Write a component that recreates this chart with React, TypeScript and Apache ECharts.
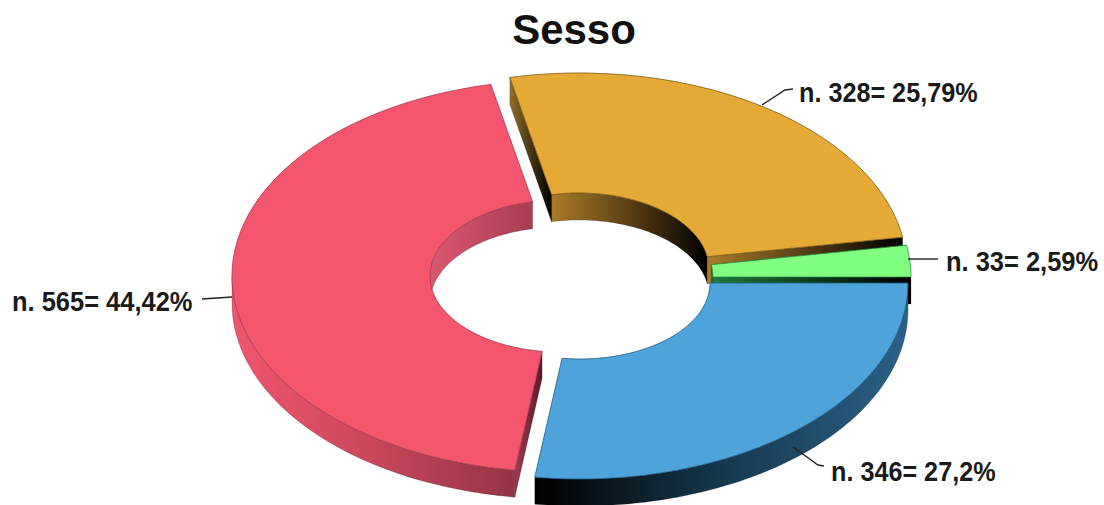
import React, { useEffect, useRef } from "react";
import * as echarts from "echarts";

const titleText = "Sesso";
const categories = ["blue", "red", "orange", "green"];
const counts = [346, 565, 328, 33];
const percentLabels = ["27,2%", "44,42%", "25,79%", "2,59%"];
const drawOrder = [2, 3, 1, 0];

const topColors = ["#4fa3db", "#f4566e", "#e5a936", "#80ff80"];
const edgeColors = ["#1f5a80", "#a83a50", "#7a5a14", "#2f8f45"];

type Stops = string[];
const outerWall: (Stops | null)[] = [
  ["#000000", "#16384e", "#2a6288"],
  ["#f0566e", "#c9465c", "#933545"],
  null,
  null,
];
const innerWall: (Stops | null)[] = [
  null,
  ["#d9586f", "#a83c52"],
  ["#a97c28", "#5a3f14", "#000000"],
  null,
];
const startWall: (Stops | null)[] = [null, ["#a03a50", "#5c1a28"], ["#93702a", "#000000"], ["#1f7a3a", "#000000"]];
const endWall: (Stops | null)[] = [null, null, ["#a97c28", "#000000"], ["#1f7a3a", "#000000"]];

const CX = 580;
const CY = 283;
const RX = 328;
const RY = 196;
const IRX = 130;
const IRY = 76;
const DEPTH = 27;
const sliceShift = [
  [0, 0],
  [-20, -7],
  [-1, -14],
  [3, -6],
];

const labelX = [831, 12, 799, 946];
const labelY = [472, 302, 93, 262];
const labelScale = [0.9, 0.91, 0.9, 0.91];
const leaders = [
  [[793, 447], [818, 465], [824, 466]],
  [[202, 299], [232, 297]],
  [[762, 105], [785, 90], [793, 89]],
  [[908, 259], [938, 259]],
];

const total = counts.reduce((a, b) => a + b, 0);
const starts: number[] = [];
counts.reduce((acc, v, i) => {
  starts[i] = acc;
  return acc + (v / total) * 360;
}, 0);

function arc(rx: number, ry: number, cx: number, cy: number, a: number, b: number) {
  const pts: number[][] = [];
  const n = Math.max(2, Math.ceil(Math.abs(b - a) / 1.5));
  for (let k = 0; k <= n; k++) {
    const t = ((a + ((b - a) * k) / n) * Math.PI) / 180;
    pts.push([cx + rx * Math.cos(t), cy + ry * Math.sin(t)]);
  }
  return pts;
}

function grad(stops: Stops) {
  return new echarts.graphic.LinearGradient(
    0,
    0,
    1,
    0,
    stops.map((color, i) => ({ offset: i / (stops.length - 1), color }))
  );
}

function wall(pts: number[][], stops: Stops) {
  const lower = pts.map((p) => [p[0], p[1] + DEPTH]).reverse();
  return {
    type: "polygon",
    silent: true,
    shape: { points: pts.concat(lower) },
    style: { fill: grad(stops), stroke: "rgba(0,0,0,0.35)", lineWidth: 0.6 },
  };
}

const renderSlice = (_p: any, api: any) => {
  const i = api.value(0) as number;
  const a = starts[i];
  const b = a + (api.value(1) / total) * 360;
  const cx = CX + sliceShift[i][0];
  const cy = CY + sliceShift[i][1];
  const children: any[] = [];

  const oa = Math.max(a, 0);
  const ob = Math.min(b, 180);
  const ia = Math.max(a, 180);
  const ib = Math.min(b, 360);
  const at = (rx: number, ry: number, t: number) => {
    const r = (t * Math.PI) / 180;
    return [cx + rx * Math.cos(r), cy + ry * Math.sin(r)];
  };

  if (innerWall[i] && ib > ia) children.push(wall(arc(IRX, IRY, cx, cy, ia, ib), innerWall[i]!));
  if (startWall[i]) {
    const ends = [at(RX, RY, a), at(IRX, IRY, a)].sort((p, q) => p[0] - q[0]);
    children.push(wall(ends, startWall[i]!));
  }
  if (endWall[i]) {
    const ends = [at(RX, RY, b), at(IRX, IRY, b)].sort((p, q) => p[0] - q[0]);
    children.push(wall(ends, endWall[i]!));
  }
  if (outerWall[i] && ob > oa) children.push(wall(arc(RX, RY, cx, cy, oa, ob), outerWall[i]!));

  children.push({
    type: "polygon",
    silent: true,
    shape: { points: arc(RX, RY, cx, cy, a, b).concat(arc(IRX, IRY, cx, cy, b, a)) },
    style: { fill: topColors[i], stroke: edgeColors[i], lineWidth: 0.8 },
  });

  children.push({
    type: "polyline",
    silent: true,
    shape: { points: leaders[i] },
    style: { fill: "none", stroke: "#222222", lineWidth: 1.4 },
  });
  children.push({
    type: "text",
    silent: true,
    x: labelX[i],
    y: labelY[i],
    scaleX: labelScale[i],
    style: {
      text: `n. ${api.value(1)}= ${percentLabels[i]}`,
      font: 'bold 28px "Liberation Sans", Arial, sans-serif',
      fill: "#1a1a1a",
      align: "left",
      verticalAlign: "middle",
    },
  });
  return { type: "group", children };
};

export default function App() {
  const ref = useRef<HTMLDivElement>(null);
  useEffect(() => {
    document.body.style.margin = "0";
    const chart = echarts.init(ref.current!, null, { renderer: "svg" });
    chart.setOption({
      animation: false,
      backgroundColor: "#ffffff",
      title: {
        text: titleText,
        left: 569,
        top: 3,
        textAlign: "center",
        textStyle: { fontFamily: '"Liberation Sans", Arial, sans-serif', fontWeight: "bold", fontSize: 42, color: "#111111" },
      },
      series: [
        {
          type: "custom",
          coordinateSystem: "none",
          name: categories.join(","),
          renderItem: renderSlice,
          data: drawOrder.map((i) => [i, counts[i]]),
        },
      ],
    });
    return () => chart.dispose();
  }, []);
  return <div ref={ref} style={{ width: 1104, height: 505 }} />;
}
